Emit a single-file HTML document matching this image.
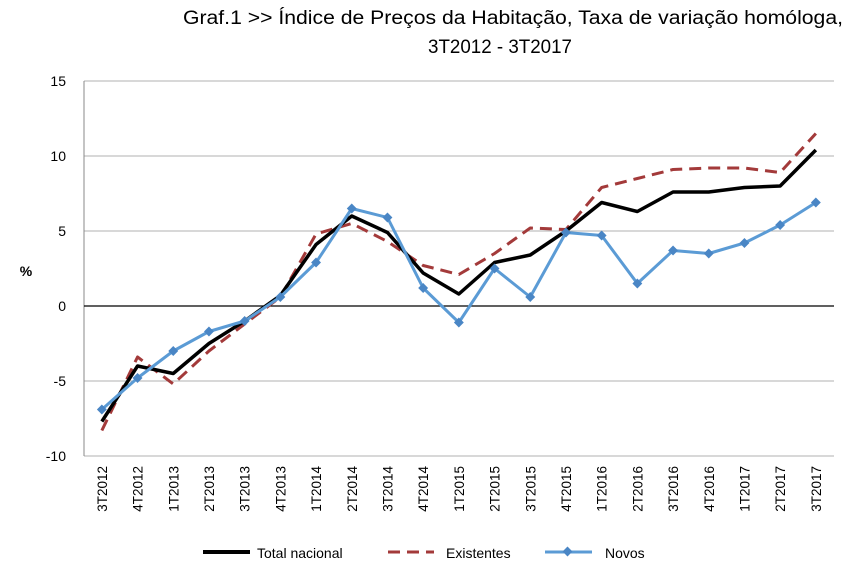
<!DOCTYPE html>
<html><head><meta charset="utf-8"><style>
body{margin:0;background:#fff;}
svg{display:block;font-family:"Liberation Sans",sans-serif;}
</style></head><body>
<svg id="s" width="868" height="578" xmlns="http://www.w3.org/2000/svg">
<text x="183" y="24" font-size="19" fill="#000" textLength="660" lengthAdjust="spacingAndGlyphs">Graf.1  &gt;&gt;  Índice de Preços da Habitação, Taxa de variação homóloga,</text>
<text x="428" y="53" font-size="19" fill="#000" textLength="144" lengthAdjust="spacingAndGlyphs">3T2012 - 3T2017</text>
<g id="grid"></g>
<text x="26" y="276" font-size="14" font-weight="bold" text-anchor="middle">%</text>
<g id="series"></g>
<line x1="203" y1="552" x2="250" y2="552" stroke="#000" stroke-width="4"/>
<text x="257" y="558" font-size="14">Total nacional</text>
<line x1="388" y1="552" x2="434" y2="552" stroke="#a33a3a" stroke-width="3" stroke-dasharray="12,7"/>
<text x="446" y="558" font-size="14">Existentes</text>
<line x1="545" y1="552" x2="592" y2="552" stroke="#5b9bd5" stroke-width="3"/>
<rect x="564" y="548" width="7" height="7" fill="#4a86c5" transform="rotate(45 567.5 551.5)"/>
<text x="605" y="558" font-size="14">Novos</text>
</svg>
<script>
var NS="http://www.w3.org/2000/svg";
function el(p,t,a,txt){var e=document.createElementNS(NS,t);for(var k in a)e.setAttribute(k,a[k]);if(txt!=null)e.textContent=txt;document.getElementById(p).appendChild(e);return e;}
function Y(v){return 306-15*v;}
function X(i){return 84+35.7*(i+0.5);}
for(var v=-10;v<=15;v+=5){
 if(v!=0)el("grid","line",{x1:84,x2:834,y1:Y(v),y2:Y(v),stroke:"#b0b0b0","stroke-width":1});
 el("grid","text",{x:66,y:Y(v)+5,"text-anchor":"end","font-size":14},String(v));
}
el("grid","line",{x1:84,x2:84,y1:81,y2:456,stroke:"#888","stroke-width":1});
el("grid","line",{x1:84,x2:834,y1:306,y2:306,stroke:"#000","stroke-width":1.2});
var labs=["3T2012","4T2012","1T2013","2T2013","3T2013","4T2013","1T2014","2T2014","3T2014","4T2014","1T2015","2T2015","3T2015","4T2015","1T2016","2T2016","3T2016","4T2016","1T2017","2T2017","3T2017"];
labs.forEach(function(l,i){el("grid","text",{x:0,y:0,"font-size":13.5,"text-anchor":"end",transform:"translate("+(X(i)+5)+",466) rotate(-90)"},l);});
var tot=[-7.7,-4.0,-4.5,-2.5,-1.0,0.7,4.1,6.0,4.9,2.2,0.8,2.9,3.4,5.0,6.9,6.3,7.6,7.6,7.9,8.0,10.4];
var ex=[-8.3,-3.4,-5.2,-3.0,-1.2,0.6,4.8,5.5,4.3,2.7,2.1,3.5,5.2,5.1,7.9,8.5,9.1,9.2,9.2,8.9,11.5];
var nv=[-6.9,-4.8,-3.0,-1.7,-1.0,0.6,2.9,6.5,5.9,1.2,-1.1,2.5,0.6,4.9,4.7,1.5,3.7,3.5,4.2,5.4,6.9];
function pts(a){return a.map(function(v,i){return X(i)+","+Y(v);}).join(" ");}
el("series","polyline",{points:pts(ex),fill:"none",stroke:"#a33a3a","stroke-width":3,"stroke-dasharray":"12,7","stroke-linejoin":"round"});
el("series","polyline",{points:pts(tot),fill:"none",stroke:"#000","stroke-width":3.5,"stroke-linejoin":"round"});
el("series","polyline",{points:pts(nv),fill:"none",stroke:"#5b9bd5","stroke-width":3,"stroke-linejoin":"round"});
nv.forEach(function(v,i){el("series","rect",{x:X(i)-3.5,y:Y(v)-3.5,width:7,height:7,fill:"#4a86c5",transform:"rotate(45 "+X(i)+" "+Y(v)+")"});});
</script>
</body></html>
